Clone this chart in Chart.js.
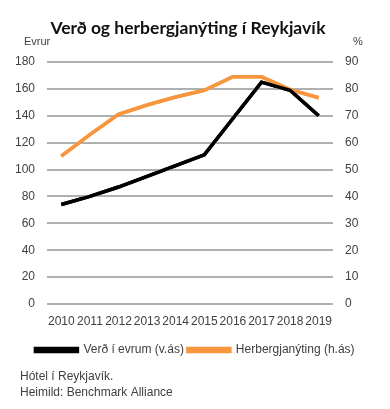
<!DOCTYPE html>
<html>
<head>
<meta charset="utf-8">
<script src="https://cdn.jsdelivr.net/npm/chart.js@4.4.1/dist/chart.umd.min.js"></script>
<style>
  html, body { margin: 0; padding: 0; background: #fff; }
  #wrap { width: 390px; height: 409px; position: relative; }
</style>
</head>
<body>
<div id="wrap"><canvas id="hotel" width="390" height="409"></canvas></div>
<script>
var years = ['2010','2011','2012','2013','2014','2015','2016','2017','2018','2019'];
var verd = [74, 80, 87, 95, 103, 111, 138, 165, 159, 140];
var nyting = [55, 63, 70.5, 74, 77, 79.5, 84.5, 84.5, 79.7, 76.7];
var leftTicks = [0, 180, 20];
var rightTicks = [0, 90, 10];
var footnotes = ['Hótel í Reykjavík.', 'Heimild: Benchmark Alliance'];

var txt = '#404040';
var gridColor = '#B0B0B0';
var fontName = "'Liberation Sans', Arial, sans-serif";

// gridlines at the left axis ticks, then the lines again on top of them
var gridLines = {
	id: 'gridLines',
	afterDatasetsDraw: function(chart){
		var c = chart.ctx, a = chart.chartArea, s = chart.scales.y;
		c.save();
		c.fillStyle = gridColor;
		s.ticks.forEach(function(t){
			var py = Math.round(s.getPixelForValue(t.value));
			c.fillRect(a.left, py - 1, a.right - a.left, 2);
		});
		c.restore();
		for (var i = chart.data.datasets.length - 1; i >= 0; i--) {
			chart.getDatasetMeta(i).controller.draw();
		}
	}
};

var extraText = {
	id: 'extraText',
	afterDraw: function(chart){
		var c = chart.ctx;
		c.save();
		c.fillStyle = '#111';
		c.textBaseline = 'middle';
		c.textAlign = 'center';
		c.font = "bold 17.5px Lato, 'Liberation Sans', sans-serif";
		c.fillText('Verð og herbergjanýting í Reykjavík', 188, 28);
		c.fillStyle = txt;
		c.font = '11px ' + fontName;
		c.textAlign = 'left';
		c.fillText('Evrur', 24, 42);
		c.fillText('%', 353, 42);
		c.font = '12px ' + fontName;
		c.fillText(footnotes[0], 20, 377);
		c.fillText(footnotes[1], 20, 393);
		c.restore();
	}
};

new Chart(document.getElementById('hotel'), {
	type: 'line',
	data: {
		labels: years,
		datasets: [
			{
				label: 'Verð í evrum (v.ás)',
				data: verd,
				borderColor: '#000000',
				backgroundColor: '#000000',
				borderWidth: 3.5,
				pointRadius: 0,
				tension: 0,
				yAxisID: 'y'
			},
			{
				label: 'Herbergjanýting (h.ás)',
				data: nyting,
				borderColor: '#F7963F',
				backgroundColor: '#F7963F',
				borderWidth: 3.5,
				pointRadius: 0,
				tension: 0,
				yAxisID: 'y1'
			}
		]
	},
	options: {
		responsive: false,
		animation: false,
		maintainAspectRatio: false,
		layout: { padding: { top: 62, left: 0, right: 0, bottom: 43 } },
		plugins: {
			title: { display: false },
			tooltip: { enabled: false },
			legend: {
				position: 'bottom',
				labels: {
					boxWidth: 42,
					boxHeight: 3,
					color: txt,
					font: { family: fontName, size: 12 },
					padding: 4
				}
			}
		},
		scales: {
			x: {
				offset: true,
				grid: { display: false },
				border: { display: false },
				ticks: {
					autoSkip: false, maxRotation: 0, color: txt, padding: 2,
					font: { family: fontName, size: 12 }
				},
				afterFit: function(s){ s.height = 36; }
			},
			y: {
				position: 'left',
				min: leftTicks[0], max: leftTicks[1],
				ticks: {
					stepSize: leftTicks[2], color: txt, padding: 12,
					font: { family: fontName, size: 12 }
				},
				grid: { color: gridColor, lineWidth: 2, drawTicks: false },
				border: { display: false },
				afterFit: function(s){ s.width = 47; }
			},
			y1: {
				position: 'right',
				min: rightTicks[0], max: rightTicks[1],
				ticks: {
					stepSize: rightTicks[2], color: txt, padding: 12,
					font: { family: fontName, size: 12 }
				},
				grid: { drawOnChartArea: false, drawTicks: false },
				border: { display: false },
				afterFit: function(s){ s.width = 57; }
			}
		}
	},
	plugins: [gridLines, extraText]
});
</script>
</body>
</html>
